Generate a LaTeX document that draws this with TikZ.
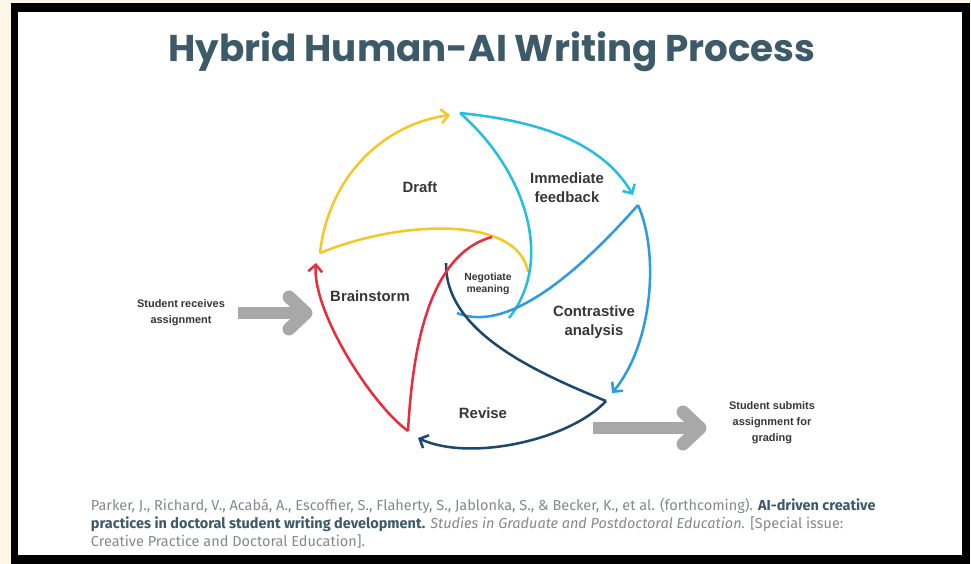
\documentclass[tikz,border=0pt]{standalone}
\usepackage{fontspec}
\setmainfont{Liberation Sans}
\newfontfamily\titlefont{Poppins}
\newfontfamily\citefont{Fira Sans}
\usepackage{tikz}
\usetikzlibrary{arrows.meta}
\definecolor{cream}{RGB}{253,246,230}
\definecolor{slate}{RGB}{60,90,104}
\definecolor{ink}{RGB}{55,55,55}
\definecolor{citegray}{RGB}{130,138,142}
\definecolor{yel}{RGB}{243,200,40}
\definecolor{cya}{RGB}{38,190,222}
\definecolor{blu}{RGB}{45,155,225}
\definecolor{nav}{RGB}{28,72,110}
\definecolor{rd}{RGB}{232,45,62}
\definecolor{gry}{RGB}{168,168,168}
\tikzstyle{titletext} = [font=\titlefont\bfseries\fontsize{26.5}{30}\selectfont, text=slate]
\tikzstyle{stagelabel} = [font=\bfseries\fontsize{10.6}{13.5}\selectfont, text=ink, align=center]
\tikzstyle{smalllabel} = [font=\bfseries\fontsize{7.4}{8.8}\selectfont, text=ink, align=center]
\tikzstyle{sidelabel} = [font=\bfseries\fontsize{7.8}{11.5}\selectfont, text=ink, align=center]
\tikzstyle{outerarc} = [line width=1.8pt, -{Straight Barb[length=5pt,width=10pt]}]
\tikzstyle{innerarc} = [line width=1.8pt]
\tikzstyle{shaft} = [gry, line width=9.2pt]
\tikzstyle{chevron} = [gry, line width=9.2pt, line cap=round, line join=round]

\begin{document}
\begin{tikzpicture}[x=0.025cm, y=-0.025cm]
  % frame
  \useasboundingbox (0,0) rectangle (971,564);
  \fill[cream] (0,0) rectangle (971,564);
  \fill[black] (11,3) rectangle (970,564);
  \fill[white] (18,12) rectangle (962,555);

  \node (title) [titletext] at (492,52) {Hybrid Human-AI Writing Process};

  % corners of the spiral
  \coordinate (y0) at (320,253); \coordinate (y1) at (450,115);
  \coordinate (c0) at (460,113); \coordinate (c1) at (633,195);
  \coordinate (b0) at (638,205); \coordinate (b1) at (612,393);
  \coordinate (n0) at (606,401); \coordinate (n1) at (418,438);
  \coordinate (r0) at (408,431); \coordinate (r1) at (316,263);
  % inner ends
  \coordinate (yc) at (528,272);
  \coordinate (cc) at (509,318);
  \coordinate (bc) at (457,313);
  \coordinate (nc) at (446,263);
  \coordinate (rc) at (492,237);

  % Draft
  \draw [outerarc, yel] (y0) .. controls (328,180) and (380,125) .. (y1);
  \draw [innerarc, yel] (y0) .. controls (400,220) and (518,215) .. (yc);
  % Immediate feedback
  \draw [outerarc, cya] (c0) .. controls (527,120) and (599,137) .. (c1);
  \draw [innerarc, cya] (c0) .. controls (525,170) and (555,260) .. (cc);
  % Contrastive analysis
  \draw [outerarc, blu] (b0) .. controls (660,255) and (652,345) .. (b1);
  \draw [innerarc, blu] (b0) .. controls (585,265) and (510,335) .. (bc);
  % Revise
  \draw [outerarc, nav] (n0) .. controls (570,440) and (470,462) .. (n1);
  \draw [innerarc, nav] (n0) .. controls (530,370) and (445,330) .. (nc);
  % Brainstorm
  \draw [outerarc, rd] (r0) .. controls (370,403) and (312,310) .. (r1);
  \draw [innerarc, rd] (r0) .. controls (412,360) and (425,255) .. (rc);

  \node (draft) [stagelabel] at (420,187) {Draft};
  \node (feedback) [stagelabel] at (567,188) {Immediate\\feedback};
  \node (contrast) [stagelabel] at (594,322) {Contrastive\\analysis};
  \node (revise) [stagelabel] at (483,413) {Revise};
  \node (brain) [stagelabel] at (370,296) {Brainstorm};
  \node (negotiate) [smalllabel] at (488,284) {Negotiate\\meaning};

  % in and out
  \node (receive) [sidelabel] at (181,313) {Student receives\\assignment};
  \node (submit) [sidelabel] at (772,423) {Student submits\\assignment for\\grading};
  \coordinate (in0) at (238,313); \coordinate (in1) at (306,313);
  \coordinate (out0) at (593,428); \coordinate (out1) at (700,428);
  \draw [shaft] (in0) -- (in1);
  \draw [chevron] ([shift={(-17,-16)}]in1) -- (in1) -- ([shift={(-17,16)}]in1);
  \draw [shaft] (out0) -- (out1);
  \draw [chevron] ([shift={(-17,-16)}]out1) -- (out1) -- ([shift={(-17,16)}]out1);

  \node (cite) [anchor=north west, align=left, text=citegray,
    font=\citefont\fontsize{10.3}{12.8}\selectfont] at (86,493)
    {Parker, J., Richard, V., Acabá, A., Escoffier, S., Flaherty, S., Jablonka, S., \& Becker, K., et al. (forthcoming). \textcolor{slate}{\textbf{AI-driven creative}}\\
     \textcolor{slate}{\textbf{practices in doctoral student writing development.}} \textit{Studies in Graduate and Postdoctoral Education.} [Special issue:\\
     Creative Practice and Doctoral Education].};
\end{tikzpicture}
\end{document}
